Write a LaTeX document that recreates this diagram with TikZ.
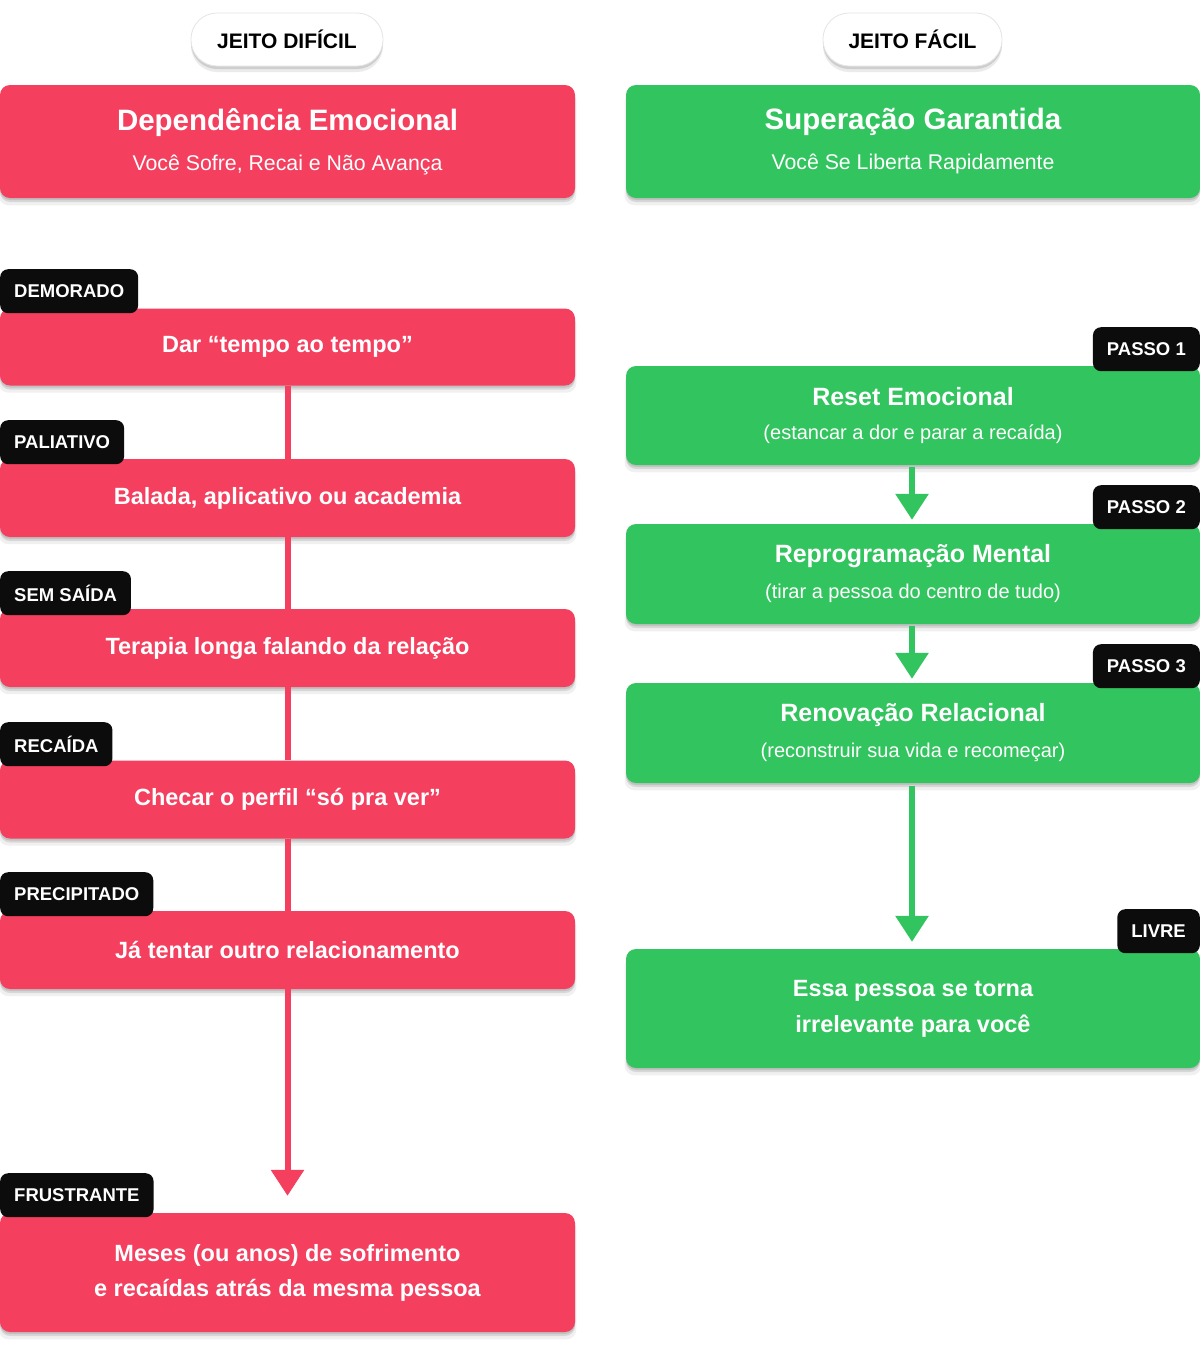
\documentclass[tikz,border=0pt]{standalone}
\usepackage{fontspec}
\setmainfont{Liberation Sans}
\usetikzlibrary{arrows.meta,shadows}
\definecolor{rred}{RGB}{244,63,94}
\definecolor{ggreen}{RGB}{50,196,94}
\definecolor{tagblack}{RGB}{12,12,12}
\newcommand{\fsz}[2]{\fontsize{#1}{#2}\selectfont}
\tikzset{
  myshadow/.style={
    drop shadow={opacity=0.06,shadow xshift=0pt,shadow yshift=-7pt,shadow scale=1.005,fill=black},
    drop shadow={opacity=0.10,shadow xshift=0pt,shadow yshift=-4pt,fill=black},
    drop shadow={opacity=0.10,shadow xshift=0pt,shadow yshift=-2pt,fill=black}},
  redbox/.style={rectangle,rounded corners=10pt,fill=rred,text=white,minimum width=575pt,align=center,inner sep=0pt,myshadow},
  greenbox/.style={rectangle,rounded corners=10pt,fill=ggreen,text=white,minimum width=574pt,align=center,inner sep=0pt,myshadow},
  tagbox/.style={rectangle,rounded corners=8pt,fill=tagblack,text=white,minimum height=44pt,inner xsep=14pt,inner ysep=0pt,font=\fsz{18.5}{22}\bfseries},
  pill/.style={rectangle,rounded corners=26pt,fill=white,draw=black!10,line width=0.8pt,text=black,minimum height=53pt,inner sep=0pt,font=\fsz{21}{26}\bfseries,
    drop shadow={opacity=0.08,shadow xshift=0pt,shadow yshift=-6pt,fill=black},
    drop shadow={opacity=0.12,shadow xshift=0pt,shadow yshift=-3pt,fill=black}},
  redline/.style={draw=rred,line width=6pt},
  greenline/.style={draw=ggreen,line width=6pt},
  boxtitle/.style={font=\fsz{23.5}{35}\bfseries},
}
\begin{document}
\begin{tikzpicture}[x=1pt,y=-1pt]
\useasboundingbox[fill=white] (0,0) rectangle (1200,1345);

% headers
\node[pill,minimum width=192pt] (pl) at (287,39.5) {JEITO DIFÍCIL};
\node[pill,minimum width=179pt] (pr) at (912.5,39.5) {JEITO FÁCIL};

\node[redbox,minimum height=113pt,font=\fsz{21.3}{40}] (hl) at (287.5,141.5)
  {{\fsz{29.5}{40}\bfseries Dependência Emocional}\\Você Sofre, Recai e Não Avança};
\node[greenbox,minimum height=113pt,font=\fsz{21.3}{40}] (hr) at (913,141.5)
  {{\fsz{29.5}{40}\bfseries Superação Garantida}\\Você Se Liberta Rapidamente};

% left column boxes
\node[redbox,minimum height=77pt,boxtitle] (b1) at (287.5,347) {Dar “tempo ao tempo”};
\node[redbox,minimum height=78pt,boxtitle] (b2) at (287.5,498) {Balada, aplicativo ou academia};
\node[redbox,minimum height=78pt,boxtitle] (b3) at (287.5,648) {Terapia longa falando da relação};
\node[redbox,minimum height=78pt,boxtitle] (b4) at (287.5,799.5) {Checar o perfil “só pra ver”};
\node[redbox,minimum height=78pt,boxtitle] (b5) at (287.5,950) {Já tentar outro relacionamento};
\node[redbox,minimum height=119pt,boxtitle] (b6) at (287.5,1272.5) {Meses (ou anos) de sofrimento\\e recaídas atrás da mesma pessoa};

% right column boxes
\node[greenbox,minimum height=99pt,font=\fsz{20}{34}] (g1) at (913,415.5)
  {{\fsz{25}{34}\bfseries Reset Emocional}\\(estancar a dor e parar a recaída)};
\node[greenbox,minimum height=100pt,font=\fsz{20}{36}] (g2) at (913,574)
  {{\fsz{25}{36}\bfseries Reprogramação Mental}\\(tirar a pessoa do centro de tudo)};
\node[greenbox,minimum height=100pt,font=\fsz{20}{36}] (g3) at (913,733)
  {{\fsz{25}{36}\bfseries Renovação Relacional}\\(reconstruir sua vida e recomeçar)};
\node[greenbox,minimum height=119pt,font=\fsz{23.5}{36}\bfseries] (g4) at (913,1008.5) {Essa pessoa se torna\\irrelevante para você};

% connectors
\draw[redline] (b1.south) -- (b2.north);
\draw[redline] (b2.south) -- (b3.north);
\draw[redline] (b3.south) -- (b4.north);
\draw[redline] (b4.south) -- (b5.north);
\draw[redline,-{Triangle[width=32pt,length=26pt]},shorten >=17pt] (b5.south) -- (b6.north);

\draw[greenline,-{Triangle[width=32pt,length=26pt]},shorten <=2pt,shorten >=4pt] (g1.south -| 912,0) -- (g2.north -| 912,0);
\draw[greenline,-{Triangle[width=32pt,length=26pt]},shorten <=2pt,shorten >=4pt] (g2.south -| 912,0) -- (g3.north -| 912,0);
\draw[greenline,-{Triangle[width=32pt,length=26pt]},shorten <=3pt,shorten >=7pt] (g3.south -| 912,0) -- (g4.north -| 912,0);

% tags
\node[tagbox,anchor=north west] (t1) at (0,269) {DEMORADO};
\node[tagbox,anchor=north west] (t2) at (0,420) {PALIATIVO};
\node[tagbox,anchor=north west] (t3) at (0,571) {SEM SAÍDA};
\node[tagbox,anchor=north west] (t4) at (0,722) {RECAÍDA};
\node[tagbox,anchor=north west] (t5) at (0,872) {PRECIPITADO};
\node[tagbox,anchor=north west] (t6) at (0,1173) {FRUSTRANTE};

\node[tagbox,anchor=north east] (p1) at (1200,327) {PASSO 1};
\node[tagbox,anchor=north east] (p2) at (1200,485) {PASSO 2};
\node[tagbox,anchor=north east] (p3) at (1200,644) {PASSO 3};
\node[tagbox,anchor=north east] (p4) at (1200,909) {LIVRE};
\end{tikzpicture}
\end{document}
